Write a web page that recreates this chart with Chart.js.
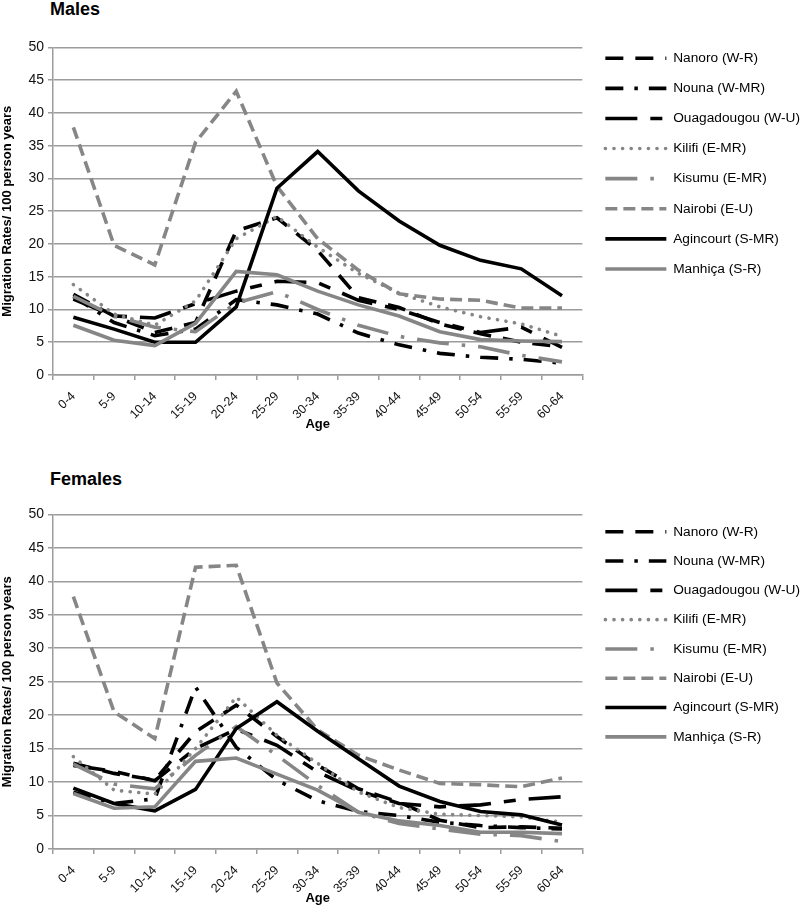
<!DOCTYPE html>
<html>
<head>
<meta charset="utf-8">
<script src="https://cdn.jsdelivr.net/npm/chart.js@4.4.0/dist/chart.umd.min.js"></script>
<style>
  html, body { margin: 0; padding: 0; background: #fff; }
  body { width: 800px; height: 906px; position: relative; overflow: hidden; font-family: "Liberation Sans", Arial, sans-serif; }
  .panel-title { position: absolute; left: 50px; font-weight: bold; font-size: 18px; line-height: 18px; color: #000; }
  .wrap { position: absolute; left: 0; width: 800px; }
</style>
</head>
<body>
<div class="panel-title" style="top:0px">Males</div>
<div class="wrap" style="top:35px;height:397px"><canvas id="malesChart" width="800" height="397"></canvas></div>
<div class="panel-title" style="top:470px">Females</div>
<div class="wrap" style="top:502px;height:404px"><canvas id="femalesChart" width="800" height="404"></canvas></div>
<script>
// age groups on the x axis
const ageGroups = ['0-4', '5-9', '10-14', '15-19', '20-24', '25-29', '30-34', '35-39', '40-44', '45-49', '50-54', '55-59', '60-64'];

const siteNames = ['Nanoro (W-R)', 'Nouna (W-MR)', 'Ouagadougou (W-U)', 'Kilifi (E-MR)', 'Kisumu (E-MR)', 'Nairobi (E-U)', 'Agincourt (S-MR)', 'Manhiça (S-R)'];

// males, migration rates per 100 person years
const maleNanoro    = [12.3, 9.0, 6.5, 8.0, 22.0, 24.0, 19.0, 11.8, 10.3, 7.8, 6.3, 5.0, 4.3];
const maleNouna     = [12.0, 8.0, 6.0, 7.0, 11.5, 10.7, 9.3, 6.4, 4.6, 3.3, 2.7, 2.4, 1.8];
const maleOuaga     = [11.6, 9.0, 8.7, 10.9, 12.8, 14.3, 14.1, 11.4, 10.0, 8.0, 6.5, 7.3, 4.2];
const maleKilifi    = [13.8, 9.3, 7.6, 11.3, 20.8, 24.2, 19.5, 15.5, 12.5, 10.4, 8.9, 7.8, 5.9];
const maleKisumu    = [12.0, 9.0, 7.3, 6.6, 11.0, 12.7, 10.0, 7.6, 5.9, 4.9, 4.3, 3.0, 2.0];
const maleNairobi   = [37.8, 19.8, 16.8, 35.5, 43.3, 28.8, 20.8, 16.0, 12.4, 11.6, 11.4, 10.2, 10.2];
const maleAgincourt = [8.8, 7.0, 5.0, 5.0, 10.4, 28.5, 34.1, 28.1, 23.5, 19.8, 17.5, 16.2, 12.1];
const maleManhica   = [7.6, 5.3, 4.5, 7.9, 15.8, 15.3, 12.8, 10.7, 9.0, 6.6, 5.4, 5.2, 5.1];

// females
const femaleNanoro    = [12.8, 11.3, 10.3, 17.5, 21.5, 16.8, 12.5, 9.0, 7.0, 4.3, 3.2, 3.3, 3.1];
const femaleNouna     = [8.5, 6.8, 7.5, 24.2, 15.2, 10.3, 7.2, 5.6, 5.0, 4.0, 3.5, 3.2, 3.0];
const femaleOuaga     = [12.5, 11.6, 10.2, 15.0, 17.9, 15.5, 11.5, 8.7, 6.8, 6.3, 6.6, 7.4, 7.8];
const femaleKilifi    = [13.8, 8.8, 8.2, 15.0, 22.7, 17.0, 12.8, 8.5, 6.2, 5.2, 5.0, 4.8, 4.0];
const femaleKisumu    = [12.7, 9.7, 9.0, 14.0, 18.3, 14.0, 9.5, 5.5, 3.8, 3.0, 2.2, 2.0, 1.1];
const femaleNairobi   = [37.7, 20.5, 16.5, 42.1, 42.4, 24.8, 17.8, 14.0, 11.8, 9.8, 9.6, 9.3, 10.6];
const femaleAgincourt = [9.1, 6.8, 5.7, 8.9, 18.0, 22.0, 17.6, 13.5, 9.4, 7.1, 5.6, 5.1, 3.6];
const femaleManhica   = [8.3, 6.1, 6.3, 13.1, 13.6, 11.2, 8.8, 5.5, 4.2, 3.5, 2.5, 2.5, 2.3];

const BLACK = '#000000';
const GREY = '#868686';
const GRID = '#9c9c9c';
const FONT = '"Liberation Sans", Arial, sans-serif';

// line look for each site, same order as siteNames
const lineStyles = [
    { color: BLACK, dash: [18, 12], cap: 'butt' },
    { color: BLACK, dash: [18, 11, 3.5, 11], cap: 'butt' },
    { color: BLACK, dash: [32, 13, 12, 13], cap: 'butt' },
    { color: GREY, dash: [0.1, 8.5], cap: 'round' },
    { color: GREY, dash: [32, 13, 3.5, 13], cap: 'butt' },
    { color: GREY, dash: [12, 6], cap: 'butt' },
    { color: BLACK, dash: [], cap: 'butt' },
    { color: GREY, dash: [], cap: 'butt' }
];

// legend entries keep the dash of their line
function legendItems(chart) {
    const items = Chart.defaults.plugins.legend.labels.generateLabels(chart);
    return items.map(item => {
        const ds = chart.data.datasets[item.datasetIndex];
        item.lineDash = ds.borderDash;
        item.lineCap = ds.borderCapStyle;
        item.strokeStyle = ds.borderColor;
        item.fillStyle = ds.borderColor;
        item.lineWidth = ds.borderWidth;
        return item;
    });
}

function buildChart(canvasId, series, legendPad, topPad) {
    const ctx = document.getElementById(canvasId).getContext('2d');
    const n = siteNames.length;
    return new Chart(ctx, {
        type: 'line',
        data: {
            labels: ageGroups,
            datasets: siteNames.map((name, i) => ({
                label: name,
                data: series[i],
                borderColor: lineStyles[i].color,
                backgroundColor: lineStyles[i].color,
                borderDash: lineStyles[i].dash,
                borderCapStyle: lineStyles[i].cap,
                borderWidth: 3.6,
                pointRadius: 0,
                tension: 0,
                fill: false,
                order: n - i
            }))
        },
        options: {
            responsive: false,
            animation: false,
            layout: { padding: { top: topPad, right: -10, left: 0, bottom: 0 } },
            plugins: {
                legend: {
                    position: 'right',
                    align: 'start',
                    maxWidth: 300,
                    labels: {
                        usePointStyle: true,
                        pointStyle: 'line',
                        pointStyleWidth: 61,
                        padding: legendPad,
                        color: '#000',
                        font: { family: FONT, size: 13.7 },
                        generateLabels: legendItems,
                        sort: (a, b) => a.datasetIndex - b.datasetIndex
                    }
                },
                tooltip: { enabled: false }
            },
            scales: {
                x: {
                    offset: true,
                    grid: { display: true, drawOnChartArea: false, drawTicks: true, tickLength: 5, offset: true, color: GRID, lineWidth: 1.5 },
                    border: { display: true, color: GRID, width: 1.5 },
                    ticks: { autoSkip: false, minRotation: 45, maxRotation: 45, padding: 9, color: '#111', font: { family: FONT, size: 12.5 } },
                    title: { display: true, text: 'Age', color: '#000', font: { family: FONT, size: 13, weight: 'bold' }, padding: { top: 0, bottom: 0 } },
                    afterFit: s => { s.height = 57; }
                },
                y: {
                    min: 0,
                    max: 50,
                    ticks: { stepSize: 5, padding: 4, color: '#111', font: { family: FONT, size: 14 } },
                    grid: { color: GRID, lineWidth: 1.5, tickLength: 5 },
                    border: { color: GRID, width: 1.5 },
                    title: { display: true, text: 'Migration Rates/ 100 person years', color: '#000', font: { family: FONT, size: 13, weight: 'bold' }, padding: { top: 0, bottom: 0 } },
                    afterFit: s => { s.width = 53; }
                },
                // empty strip between the plot and the legend
                gap: {
                    type: 'linear',
                    axis: 'y',
                    position: 'right',
                    min: 0,
                    max: 1,
                    grid: { display: false },
                    border: { display: false },
                    ticks: { display: false },
                    afterFit: s => { s.width = 23 - legendPad; }
                }
            }
        }
    });
}

buildChart('malesChart',
    [maleNanoro, maleNouna, maleOuaga, maleKilifi, maleKisumu, maleNairobi, maleAgincourt, maleManhica],
    16.4, 0);
buildChart('femalesChart',
    [femaleNanoro, femaleNouna, femaleOuaga, femaleKilifi, femaleKisumu, femaleNairobi, femaleAgincourt, femaleManhica],
    15.6, 7.3);
</script>
</body>
</html>
